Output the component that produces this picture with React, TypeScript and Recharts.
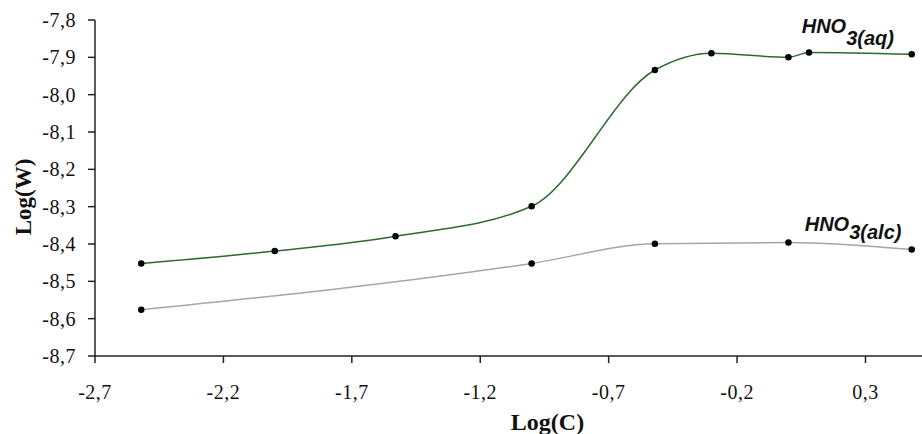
import { LineChart, Line, XAxis, YAxis, LabelList } from "recharts";

// Log(C) positions and Log(W) values
const aqLogC = [-2.52, -2.0, -1.53, -1.0, -0.52, -0.3, 0.0, 0.08, 0.48];
const aqLogW = [-8.452, -8.419, -8.379, -8.299, -7.934, -7.889, -7.9, -7.887, -7.892];
const alcLogC = [-2.52, -1.0, -0.52, 0.0, 0.48];
const alcLogW = [-8.576, -8.452, -8.399, -8.396, -8.415];

const xTicks = [-2.7, -2.2, -1.7, -1.2, -0.7, -0.2, 0.3];
const yTicks = [-8.7, -8.6, -8.5, -8.4, -8.3, -8.2, -8.1, -8.0, -7.9, -7.8];

const aqData = aqLogC.map((c, i) => ({ c, w: aqLogW[i] }));
const alcData = alcLogC.map((c, i) => ({ c, w: alcLogW[i] }));

const fmt = (v: number) => v.toFixed(1).replace(".", ",");
const serif = "'Liberation Serif', 'Times New Roman', serif";
const sans = "'Liberation Sans', Arial, sans-serif";

const seriesLabel = (sub: string, last: number, dx: number, dy: number, subDy: number) => (props: any) => {
  if (props.index !== last) return null;
  return (
    <text
      x={props.x + dx}
      y={props.y + dy}
      fontFamily={sans}
      fontStyle="italic"
      fontWeight="bold"
      fontSize={20}
      fill="#111"
    >
      <tspan>HNO</tspan>
      <tspan dy={subDy}>{sub}</tspan>
    </text>
  );
};

const xLabel = (props: any) => {
  const vb = props.viewBox;
  return (
    <text
      x={vb.x + vb.width / 2 + 39}
      y={430}
      textAnchor="middle"
      fontFamily={serif}
      fontWeight="bold"
      fontSize={24}
      fill="#111"
    >
      Log(C)
    </text>
  );
};

const yLabel = (props: any) => {
  const vb = props.viewBox;
  const cy = vb.y + vb.height / 2 + 9;
  return (
    <text
      x={31}
      y={cy}
      transform={`rotate(-90, 31, ${cy})`}
      textAnchor="middle"
      fontFamily={serif}
      fontWeight="bold"
      fontSize={23}
      fill="#111"
    >
      Log(W)
    </text>
  );
};

export default function App() {
  return (
    <div style={{ position: "absolute", left: 0, top: 0, background: "#fff" }}>
      <LineChart
        width={922}
        height={434}
        margin={{ top: 20, right: 0, left: 0, bottom: 0 }}
      >
        <XAxis
          type="number"
          dataKey="c"
          domain={[-2.7, 0.52]}
          ticks={xTicks}
          tickFormatter={fmt}
          allowDataOverflow
          height={78}
          stroke="#222"
          strokeWidth={1.5}
          tickSize={7}
          tick={{ fill: "#111", fontFamily: serif, fontSize: 20, letterSpacing: 0.5 }}
          tickMargin={22}
          label={{ content: xLabel }}
        />
        <YAxis
          type="number"
          dataKey="w"
          domain={[-8.7, -7.8]}
          ticks={yTicks}
          tickFormatter={fmt}
          width={95}
          stroke="#222"
          strokeWidth={1.5}
          tickSize={7}
          tickMargin={12}
          tick={{ fill: "#111", fontFamily: serif, fontSize: 20, letterSpacing: 0.5 }}
          label={{ content: yLabel }}
        />
        <Line
          data={aqData}
          dataKey="w"
          type="monotone"
          stroke="#2e6a2e"
          strokeWidth={1.5}
          dot={{ r: 2.5, fill: "#000", stroke: "#000" }}
          isAnimationActive={false}
        >
          <LabelList content={seriesLabel("3(aq)", aqData.length - 1, -110, -21, 12)} />
        </Line>
        <Line
          data={alcData}
          dataKey="w"
          type="monotone"
          stroke="#a6a6a6"
          strokeWidth={1.5}
          dot={{ r: 2.5, fill: "#000", stroke: "#000" }}
          isAnimationActive={false}
        >
          <LabelList content={seriesLabel("3(alc)", alcData.length - 1, -107, -19, 8)} />
        </Line>
      </LineChart>
    </div>
  );
}
